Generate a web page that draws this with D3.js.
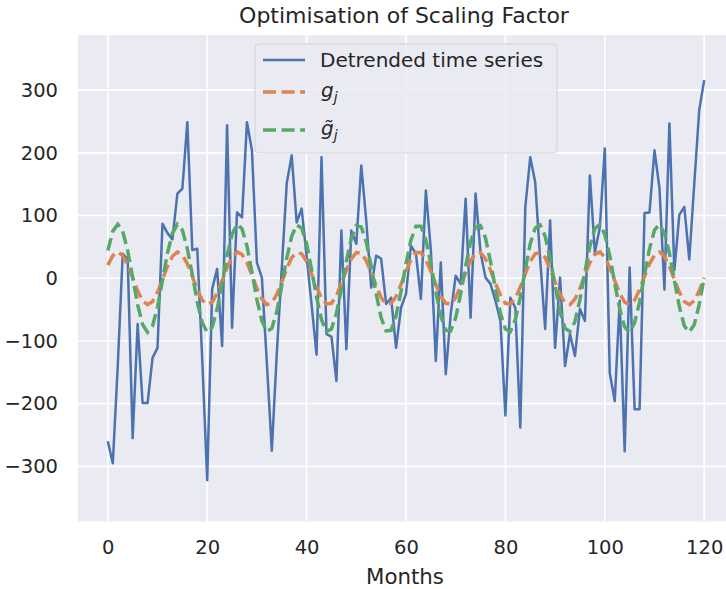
<!DOCTYPE html>
<html><head><meta charset="utf-8">
<script src="https://cdn.jsdelivr.net/npm/d3@7"></script>
<style>body{margin:0;background:#fff} text{font-family:"DejaVu Sans",sans-serif;}</style>
</head><body><svg id="c" width="726" height="589"></svg>
<script>
// Detrended time series (months 0..120)
const detrended=[-260,-295,-140,39,30,-255,-73,-199,-199,-127,
-111,87,72,62,135,143,249,45,47,-130,
-322,-17,15,-108,244,-79,105,97,249,204,
25,1,-135,-275,-120,15,151,196,89,111,
35,-42,-122,193,-89,-93,-164,76,-113,76,
55,180,92,-15,36,31,-41,-31,-111,-47,
-25,52,39,-33,140,45,-132,25,-153,-57,
4,-9,127,-63,135,41,1,-9,-36,-68,
-219,-31,-47,-238,113,193,153,30,-81,92,
-111,1,-140,-89,-124,-49,-68,164,41,81,
207,-151,-196,-36,-276,17,-209,-209,104,105,
204,144,-18,247,13,101,114,30,150,268,
316];
// g_j (orange dashed)
const gj=[21,36,42,36,21,1,-20,-36,-42,-37,-22,-2,
19,35,42,37,23,3,-18,-35,-42,-38,-24,-4,
17,34,42,38,25,5,-16,-33,-42,-39,-26,-6,
15,33,41,39,27,7,-14,-32,-41,-40,-28,-8,
13,31,41,40,28,9,-12,-31,-41,-40,-29,-10,
11,30,41,41,30,11,-10,-29,-40,-41,-31,-12,
9,28,40,41,31,13,-8,-27,-40,-41,-32,-14,
7,27,39,41,33,15,-6,-26,-39,-42,-33,-16,
5,25,38,42,34,17,-4,-24,-38,-42,-35,-18,
3,23,37,42,35,19,-2,-22,-37,-42,-36,-20,
1];
// g~_j (green dashed)
const gTilde=[44,75,86,75,44,1,-42,-74,-86,-76,-46,-3,
40,72,86,77,47,6,-38,-71,-86,-78,-49,-8,
36,70,86,79,51,10,-34,-68,-85,-80,-53,-12,
32,67,85,80,55,14,-30,-66,-85,-81,-56,-17,
27,64,84,82,58,19,-25,-63,-84,-83,-60,-21,
23,61,83,83,61,23,-21,-60,-83,-84,-63,-25,
19,58,82,84,64,27,-17,-56,-81,-85,-66,-30,
14,55,80,85,67,32,-12,-53,-80,-85,-69,-34,
10,51,79,86,70,36,-8,-49,-78,-86,-71,-38,
6,47,77,86,72,40,-3,-45,-76,-86,-74,-42,
1];
const xTicks=[0,20,40,60,80,100,120];
const yTicks=[-300,-200,-100,0,100,200,300];
const titleText="Optimisation of Scaling Factor";
const xLabel="Months";

const W=726,H=589;
const P={left:78,top:35,right:734,bottom:521.5};
const x=d3.scaleLinear().domain([-6,126]).range([P.left,P.right]);
const y=d3.scaleLinear().domain([-388,388]).range([P.bottom,P.top]);
const svg=d3.select("#c");
const FONT='"DejaVu Sans", sans-serif';
const TXT="#262626";

svg.append("rect").attr("width",W).attr("height",H).attr("fill","#fff");
svg.append("defs").append("clipPath").attr("id","clip").append("rect")
  .attr("x",P.left).attr("y",P.top).attr("width",P.right-P.left).attr("height",P.bottom-P.top);
svg.append("rect").attr("x",P.left).attr("y",P.top).attr("width",P.right-P.left).attr("height",P.bottom-P.top).attr("fill","#EAEAF2");

const grid=svg.append("g").attr("stroke","#fff").attr("stroke-width",1.6);
grid.selectAll(".gx").data(xTicks).join("line").attr("class","gx")
  .attr("x1",d=>x(d)).attr("x2",d=>x(d)).attr("y1",P.top).attr("y2",P.bottom);
grid.selectAll(".gy").data(yTicks).join("line").attr("class","gy")
  .attr("y1",d=>y(d)).attr("y2",d=>y(d)).attr("x1",P.left).attr("x2",P.right);

// axes
const gx=svg.append("g").attr("transform",`translate(0,${P.bottom})`)
  .call(d3.axisBottom(x).tickValues(xTicks).tickSize(0).tickPadding(19));
gx.select(".domain").remove();
gx.attr("font-family",FONT).attr("font-size",19.5).attr("color",TXT);
const gy=svg.append("g").attr("transform",`translate(${P.left},0)`)
  .call(d3.axisLeft(y).tickValues(yTicks).tickSize(0).tickPadding(20));
gy.select(".domain").remove();
gy.attr("font-family",FONT).attr("font-size",19.5).attr("color",TXT);

// lines
const line=d3.line().x((d,i)=>x(i)).y(d=>y(d));
const lines=svg.append("g").attr("clip-path","url(#clip)").attr("fill","none");
lines.append("path").datum(detrended).attr("d",line).attr("stroke","#4C72B0").attr("stroke-width",2.5).attr("stroke-linejoin","round");
lines.append("path").datum(gj).attr("d",line).attr("stroke","#DD8452").attr("stroke-width",3.5).attr("stroke-dasharray","13,5.6");
lines.append("path").datum(gTilde).attr("d",line).attr("stroke","#55A868").attr("stroke-width",3.5).attr("stroke-dasharray","13,5.6");

// title + label
svg.append("text").attr("x",404).attr("y",23).attr("text-anchor","middle").attr("font-size",22).attr("fill",TXT).text(titleText);
svg.append("text").attr("x",405).attr("y",584).attr("text-anchor","middle").attr("font-size",21.3).attr("fill",TXT).text(xLabel);

// legend
const lg=svg.append("g");
lg.append("rect").attr("x",255).attr("y",44).attr("width",302).attr("height",109).attr("rx",4)
  .attr("fill","#EAEAF2").attr("fill-opacity",0.8).attr("stroke","#cccccc").attr("stroke-opacity",0.8);
const items=[{c:"#4C72B0",dash:null,w:2.5,y:60},{c:"#DD8452",dash:"13,5.6",w:3.5,y:92},{c:"#55A868",dash:"13,5.6",w:3.5,y:130}];
items.forEach(it=>{
  const l=lg.append("line").attr("x1",263).attr("x2",305).attr("y1",it.y).attr("y2",it.y).attr("stroke",it.c).attr("stroke-width",it.w);
  if(it.dash) l.attr("stroke-dasharray",it.dash);
});
lg.append("text").attr("x",320).attr("y",67).attr("font-size",20).attr("fill",TXT).text("Detrended time series");
const t2=lg.append("text").attr("x",321).attr("y",97).attr("font-size",20).attr("fill",TXT);
t2.append("tspan").attr("font-style","italic").text("g");
t2.append("tspan").attr("font-style","italic").attr("font-size",14).attr("dy",5).text("j");
const t3=lg.append("text").attr("x",321).attr("y",135).attr("font-size",20).attr("fill",TXT);
t3.append("tspan").attr("font-style","italic").text("g\u0303");
t3.append("tspan").attr("font-style","italic").attr("font-size",14).attr("dy",5).text("j");
</script></body></html>
